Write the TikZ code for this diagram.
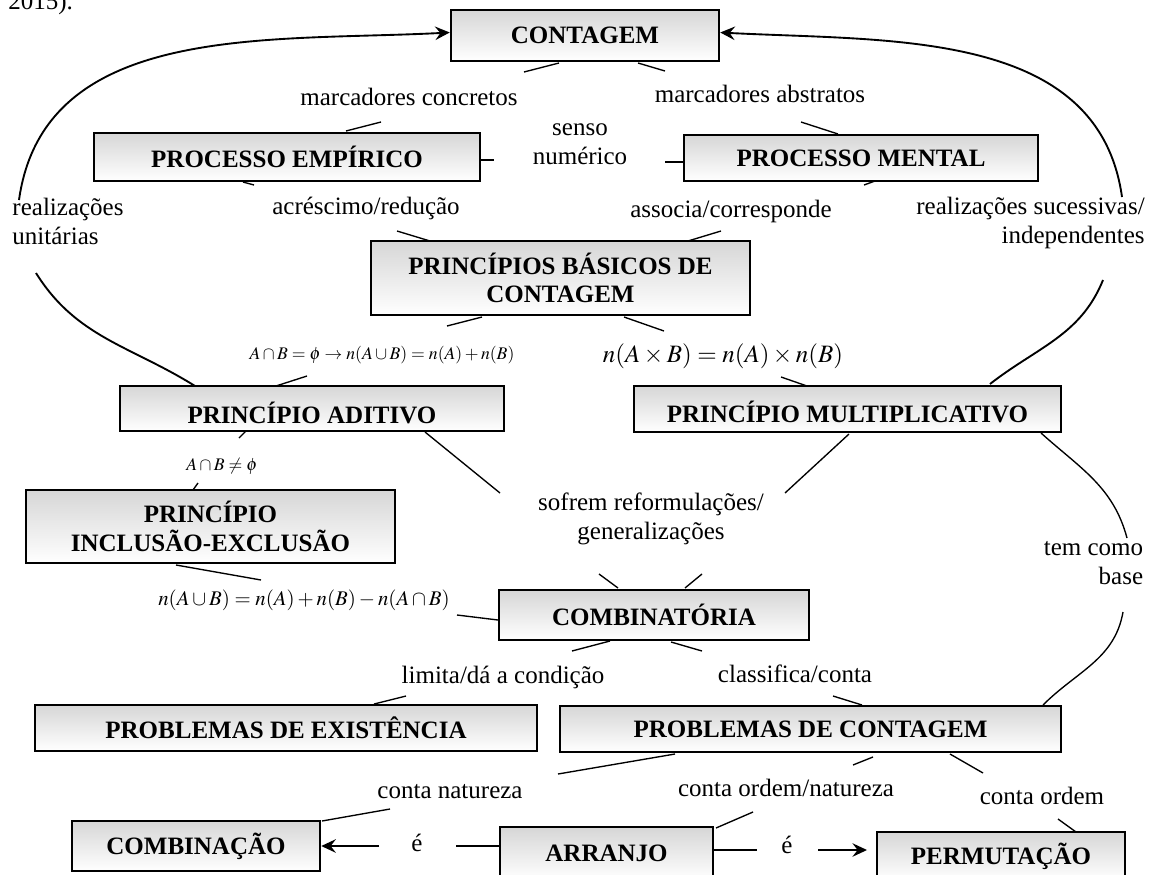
\documentclass[tikz,border=0pt]{standalone}
\usepackage{mathptmx}
\usepackage{fontspec}
\setmainfont{Liberation Serif}
\usetikzlibrary{calc,arrows.meta}
\tikzset{>={Stealth[length=7pt,width=6.5pt,inset=2.5pt]}}
\def\pxu{0.48pt}
\def\myfont{\fontsize{12}{13.7}\selectfont}

\tikzset{
  concept/.style={draw=black, line width=1.2pt, top color=black!16, bottom color=white,
    inner sep=0pt, align=center, font=\myfont\bfseries},
  boxsize/.style 2 args={minimum width=#1*\pxu, minimum height=#2*\pxu},
  linkword/.style={inner sep=0pt, align=center, font=\myfont, text height=8.5pt, text depth=2.5pt},
  cline/.style={draw=black, line width=0.65pt},
  ccurve/.style={draw=black, line width=0.9pt},
}

\begin{document}
\begin{tikzpicture}[x=0.48pt, y=0.48pt]
  \useasboundingbox (0,0) rectangle (1151,-874);
  \node[anchor=base west, inner sep=0pt, font=\myfont] (cap) at (8,-9) {2015).};

  % concepts
  \node[concept, boxsize={268}{51}] (cont) at (585,-35.5) {CONTAGEM};
  \node[concept, boxsize={386}{48}] (pemp) at (287,-157) {PROCESSO EMPÍRICO};
  \node[concept, boxsize={354}{46}] (pment) at (861,-158) {PROCESSO MENTAL};
  \node[concept, boxsize={379}{74}] (basic) at (560.5,-278) {PRINCÍPIOS BÁSICOS DE\\CONTAGEM};
  \node[concept, boxsize={384}{45}, text height=14.5pt, text depth=0pt] (padit) at (312,-408.5) {PRINCÍPIO ADITIVO};
  \node[concept, boxsize={427}{46}, text height=13pt, text depth=0pt] (pmult) at (847.5,-409) {PRINCÍPIO MULTIPLICATIVO};
  \node[concept, boxsize={369}{73}] (pincl) at (210.5,-526.5) {PRINCÍPIO\\INCLUSÃO-EXCLUSÃO};
  \node[concept, boxsize={310}{50}] (comb) at (654,-615) {COMBINATÓRIA};
  \node[concept, boxsize={502}{46}] (pexist) at (286,-728) {PROBLEMAS DE EXISTÊNCIA};
  \node[concept, boxsize={501}{46}] (pcont) at (810.5,-729) {PROBLEMAS DE CONTAGEM};
  \node[concept, boxsize={248}{50}] (combin) at (196,-846) {COMBINAÇÃO};
  \node[concept, boxsize={213}{53}] (arr) at (606.5,-853.5) {ARRANJO};
  \node[concept, boxsize={248}{48}] (perm) at (1001,-856) {PERMUTAÇÃO};

  % linking words
  \node[linkword] (mconc) at (409,-99) {marcadores concretos};
  \node[linkword] (mabst) at (760,-96) {marcadores abstratos};
  \node[linkword] (senso) at (580,-158) {senso\\numérico};
  \node[linkword] (acres) at (366,-208) {acréscimo/redução};
  \node[linkword] (assoc) at (731,-211) {associa/corresponde};
  \node[linkword, align=left] (unit) at (68,-238) {realizações\\unitárias};
  \node[linkword, align=right] (suces) at (1030.5,-237) {realizações sucessivas/\\independentes};
  \node[linkword, font=\fontsize{8.5}{10}\selectfont] (fadd) at (382,-353) {$A\cap B=\phi\rightarrow n(A\cup B)=n(A)+n(B)$};
  \node[linkword] (fmult) at (723,-356) {$n(A\times B)=n(A)\times n(B)$};
  \node[linkword, font=\fontsize{8.5}{10}\selectfont] (fneq) at (222,-464) {$A\cap B\neq\phi$};
  \node[linkword] (sofr) at (651,-533) {sofrem reformulações/\\generalizações};
  \node[linkword, align=right] (base) at (1093.5,-578) {tem como\\base};
  \node[linkword, font=\fontsize{10}{12}\selectfont] (fincl) at (304,-599) {$n(A\cup B)=n(A)+n(B)-n(A\cap B)$};
  \node[linkword] (limit) at (503,-677) {limita/dá a condição};
  \node[linkword] (class) at (795,-676) {classifica/conta};
  \node[linkword] (cnat) at (450,-792) {conta natureza};
  \node[linkword] (cordn) at (786,-790) {conta ordem/natureza};
  \node[linkword] (cord) at (1042,-798) {conta ordem};
  \node[linkword] (e1) at (417,-845) {é};
  \node[linkword] (e2) at (787,-847) {é};

  % long curves
  \draw[ccurve,->] ($(unit)+(-49,38)$) to[out=82,in=183] ($(cont.west)+(0,3)$);
  \draw[ccurve] ($(unit)+(-32,-35)$) to[out=-58,in=148] ($(padit)+(-117,22.5)$);
  \draw[ccurve,->] ($(suces)+(91.5,40)$) to[out=98,in=-3] ($(cont.east)+(0,3)$);
  \draw[ccurve] ($(suces)+(72.5,-43)$) to[out=-112,in=38] ($(pmult)+(142.5,25)$);
  \draw[cline] ($(pmult)+(193.5,-24)$) to[out=-42,in=105] ($(base)+(33.5,40)$);
  \draw[cline] ($(base)+(29.5,-34)$) to[out=-100,in=45] ($(pcont)+(232.5,24)$);

  % links
  \draw[cline] ($(cont)+(-26,-27.5)$) -- ($(mconc)+(115,27)$);
  \draw[cline] ($(cont)+(53,-27.5)$) -- ($(mabst)+(-95,25)$);
  \draw[cline] ($(mconc)+(-28,-23)$) -- ($(pemp)+(59,26)$);
  \draw[cline] ($(mabst)+(41,-26)$) -- ($(pment)+(-23,24)$);
  \draw[cline] ($(pemp)+(193,-3)$) -- ($(senso)+(-86,-2)$);
  \draw[cline] ($(senso)+(85,-4)$) -- ($(pment)+(-177,-4)$);
  \draw[cline] ($(pemp)+(-44,-25)$) -- ($(acres)+(-112,23)$);
  \draw[cline] ($(acres)+(31,-23)$) -- ($(basic)+(-130.5,37)$);
  \draw[cline] ($(pment)+(14,-23)$) -- ($(assoc)+(133,26)$);
  \draw[cline] ($(assoc)+(-10,-20)$) -- ($(basic)+(127.5,37)$);
  \draw[cline] ($(basic)+(-78.5,-39)$) -- ($(fadd)+(65,27)$);
  \draw[cline] ($(basic)+(63.5,-39)$) -- ($(fmult)+(-59,25)$);
  \draw[cline] ($(fadd)+(-75,-23)$) -- ($(padit)+(-36,22.5)$);
  \draw[cline] ($(fmult)+(58,-21)$) -- ($(pmult)+(-40.5,23)$);
  \draw[cline] ($(padit)+(-66,-22.5)$) -- ($(fneq)+(17,26)$);
  \draw[cline] ($(fneq)+(-24,-19)$) -- ($(pincl)+(-17.5,36.5)$);
  \draw[cline] ($(padit)+(113,-23.5)$) -- ($(sofr)+(-151,40)$);
  \draw[cline] ($(pmult)+(1.5,-25)$) -- ($(sofr)+(134,40)$);
  \draw[cline] ($(sofr)+(-52,-41)$) -- ($(comb)+(-36,27)$);
  \draw[cline] ($(sofr)+(51,-41)$) -- ($(comb)+(31,27)$);
  \draw[cline] ($(pincl)+(-34.5,-38.5)$) -- ($(fincl)+(-43,19)$);
  \draw[cline] ($(fincl)+(153,-16)$) -- ($(comb)+(-156,-5)$);
  \draw[cline] ($(comb)+(-44,-26)$) -- ($(limit)+(69,26)$);
  \draw[cline] ($(comb)+(17,-27)$) -- ($(class)+(-93,25)$);
  \draw[cline] ($(limit)+(-97,-19)$) -- ($(pexist)+(88,24)$);
  \draw[cline] ($(class)+(38,-20)$) -- ($(pcont)+(51.5,24)$);
  \draw[cline] ($(pcont)+(-135.5,-25)$) -- ($(cnat)+(108,18)$);
  \draw[cline] ($(pcont)+(62.5,-28)$) -- ($(cordn)+(67,25)$);
  \draw[cline] ($(pcont)+(139.5,-25)$) -- ($(cord)+(-59,25)$);
  \draw[cline] ($(cnat)+(-60,-17)$) -- ($(combin)+(126,25)$);
  \draw[cline] ($(cordn)+(-33,-22)$) -- ($(arr)+(109.5,25.5)$);
  \draw[cline] ($(cord)+(16,-21)$) -- ($(perm)+(75,24)$);
  \draw[cline, line width=0.9pt] ($(arr)+(-106.5,7.5)$) -- ($(e1)+(39,-1)$);
  \draw[cline, line width=0.9pt, ->] ($(e1)+(-38,-1)$) -- (combin.east);
  \draw[cline, line width=0.9pt] ($(arr)+(106.5,3.5)$) -- ($(e2)+(-30,-3)$);
  \draw[cline, line width=0.9pt, ->] ($(e2)+(31,-3)$) -- ($(perm)+(-134,6)$);
\end{tikzpicture}
\end{document}
